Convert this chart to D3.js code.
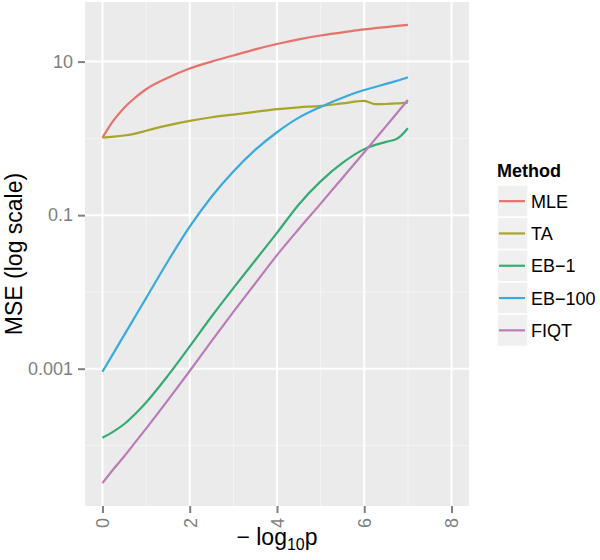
<!DOCTYPE html>
<html>
<head>
<meta charset="utf-8">
<script src="https://cdn.jsdelivr.net/npm/d3@7"></script>
<style>
  body { margin: 0; background: #fff; }
  text { font-family: "Liberation Sans", Arial, sans-serif; }
</style>
</head>
<body>
<svg id="chart"></svg>
<script>
// data
const xGrid = [0, 0.25, 0.5, 0.75, 1, 1.5, 2, 2.5, 3, 3.5, 4, 4.5, 5, 5.5, 6, 6.25, 6.5, 6.75, 7];
const mle   = [1.023, 1.698, 2.512, 3.388, 4.365, 6.166, 8.128, 10, 12.02, 14.45, 16.98, 19.50, 21.88, 23.99, 26.30, 27.23, 28.18, 29.17, 30.06];
const ta    = [1.023, 1.052, 1.091, 1.153, 1.259, 1.479, 1.690, 1.884, 2.042, 2.213, 2.399, 2.541, 2.649, 2.851, 3.076, 2.786, 2.805, 2.851, 2.924];
const eb1   = [1.259e-4, 1.514e-4, 1.905e-4, 2.570e-4, 3.631e-4, 8.128e-4, 1.950e-3, 4.786e-3, 0.01122, 0.02570, 0.05888, 0.1380, 0.2754, 0.4786, 0.7244, 0.8222, 0.9016, 0.9886, 1.358];
const eb100 = [9.12e-4, 1.585e-3, 2.754e-3, 4.786e-3, 8.318e-3, 0.02512, 0.07079, 0.1738, 0.3715, 0.7079, 1.202, 1.862, 2.570, 3.388, 4.266, 4.677, 5.129, 5.623, 6.252];
const fiqt  = [3.236e-5, 4.898e-5, 7.244e-5, 1.096e-4, 1.660e-4, 3.890e-4, 9.333e-4, 2.291e-3, 5.495e-3, 0.01288, 0.03020, 0.06607, 0.1413, 0.3055, 0.6607, 0.9772, 1.445, 2.138, 3.162];

const methods = ["MLE", "TA", "EB\u22121", "EB\u2212100", "FIQT"];
const seriesValues = [mle, ta, eb1, eb100, fiqt];
const colors = ["#E8716B", "#A8A52A", "#35AB72", "#38AADD", "#BA7BB7"];

const xTicks = [0, 2, 4, 6, 8];
const xMinor = [1, 3, 5, 7];
const yTicks = [10, 0.1, 0.001];
const yTickLabels = ["10", "0.1", "0.001"];
const yMinor = [1, 0.01, 0.0001];

const W = 600, H = 560;
const panel = { left: 85, right: 469, top: 2, bottom: 506 };

const svg = d3.select("#chart").attr("width", W).attr("height", H);

const series = methods.map((m, i) => ({
  name: m,
  color: colors[i],
  values: xGrid.map((x, j) => ({ x: x, y: seriesValues[i][j] }))
}));

// scales (ggplot style 5% expansion)
const xScale = d3.scaleLinear().domain([-0.4, 8.4]).range([panel.left, panel.right]);

const allY = seriesValues.flat();
const lmin = Math.log10(d3.min(allY)), lmax = Math.log10(d3.max(allY));
const pad = (lmax - lmin) * 0.05;
const yScale = d3.scaleLog()
  .domain([Math.pow(10, lmin - pad), Math.pow(10, lmax + pad)])
  .range([panel.bottom, panel.top]);

// panel
svg.append("rect")
  .attr("x", panel.left).attr("y", panel.top)
  .attr("width", panel.right - panel.left).attr("height", panel.bottom - panel.top)
  .attr("fill", "#EBEBEB");

const grid = svg.append("g").attr("class", "grid");
grid.selectAll(".xminor").data(xMinor).enter().append("line")
  .attr("x1", d => xScale(d)).attr("x2", d => xScale(d))
  .attr("y1", panel.top).attr("y2", panel.bottom)
  .attr("stroke", "#F4F4F4").attr("stroke-width", 1);
grid.selectAll(".yminor").data(yMinor).enter().append("line")
  .attr("y1", d => yScale(d)).attr("y2", d => yScale(d))
  .attr("x1", panel.left).attr("x2", panel.right)
  .attr("stroke", "#F4F4F4").attr("stroke-width", 1);
grid.selectAll(".xmajor").data(xTicks).enter().append("line")
  .attr("x1", d => xScale(d)).attr("x2", d => xScale(d))
  .attr("y1", panel.top).attr("y2", panel.bottom)
  .attr("stroke", "#fff").attr("stroke-width", 2);
grid.selectAll(".ymajor").data(yTicks).enter().append("line")
  .attr("y1", d => yScale(d)).attr("y2", d => yScale(d))
  .attr("x1", panel.left).attr("x2", panel.right)
  .attr("stroke", "#fff").attr("stroke-width", 2);

// lines
const line = d3.line()
  .x(d => xScale(d.x))
  .y(d => yScale(d.y))
  .curve(d3.curveMonotoneX);

svg.selectAll(".series").data(series).enter().append("path")
  .attr("class", "series")
  .attr("d", d => line(d.values))
  .attr("fill", "none")
  .attr("stroke", d => d.color)
  .attr("stroke-width", 2.2)
  .attr("stroke-linejoin", "round");

// axes
const xAxis = svg.append("g")
  .attr("transform", `translate(0,${panel.bottom})`)
  .call(d3.axisBottom(xScale).tickValues(xTicks).tickSize(7).tickSizeOuter(0).tickPadding(4));
xAxis.select(".domain").remove();
xAxis.selectAll(".tick line").attr("stroke", "#7F7F7F").attr("stroke-width", 2);
xAxis.selectAll(".tick text")
  .attr("transform", "rotate(-90)")
  .attr("x", -12).attr("y", 0).attr("dy", "0.35em")
  .attr("text-anchor", "end")
  .attr("fill", "#7F7F7F")
  .style("font-size", "18px");

const yAxis = svg.append("g")
  .attr("transform", `translate(${panel.left},0)`)
  .call(d3.axisLeft(yScale).tickValues(yTicks).tickFormat((d, i) => yTickLabels[i])
    .tickSize(7).tickSizeOuter(0).tickPadding(5));
yAxis.select(".domain").remove();
yAxis.selectAll(".tick line").attr("stroke", "#7F7F7F").attr("stroke-width", 2);
yAxis.selectAll(".tick text")
  .attr("fill", "#7F7F7F")
  .style("font-size", "18px");

// axis titles
const xt = svg.append("text")
  .attr("x", (panel.left + panel.right) / 2)
  .attr("y", 545)
  .attr("text-anchor", "middle")
  .attr("fill", "#000")
  .style("font-size", "23px");
xt.append("tspan").text("\u2212 log");
xt.append("tspan").text("10").attr("dy", 5).style("font-size", "16px");
xt.append("tspan").text("p").attr("dy", -5);

svg.append("text")
  .attr("transform", `translate(22,${(panel.top + panel.bottom) / 2}) rotate(-90)`)
  .attr("text-anchor", "middle")
  .attr("fill", "#000")
  .style("font-size", "23px")
  .text("MSE (log scale)");

// legend
const lg = svg.append("g").attr("transform", "translate(497,0)");
lg.append("text")
  .attr("x", 0).attr("y", 177)
  .style("font-size", "18px").style("font-weight", "bold")
  .text("Method");
const keyH = 32.3, keyTop = 185;
const keys = lg.selectAll(".key").data(series).enter().append("g")
  .attr("class", "key")
  .attr("transform", (d, i) => `translate(0,${keyTop + i * keyH})`);
keys.append("rect")
  .attr("width", 31).attr("height", keyH)
  .attr("fill", "#F0F0F0").attr("stroke", "#fff").attr("stroke-width", 1.5);
keys.append("line")
  .attr("x1", 2).attr("x2", 28)
  .attr("y1", keyH / 2).attr("y2", keyH / 2)
  .attr("stroke", d => d.color).attr("stroke-width", 2.2);
keys.append("text")
  .attr("x", 34).attr("y", keyH / 2).attr("dy", "0.36em")
  .style("font-size", "18px")
  .text(d => d.name);
</script>
</body>
</html>
